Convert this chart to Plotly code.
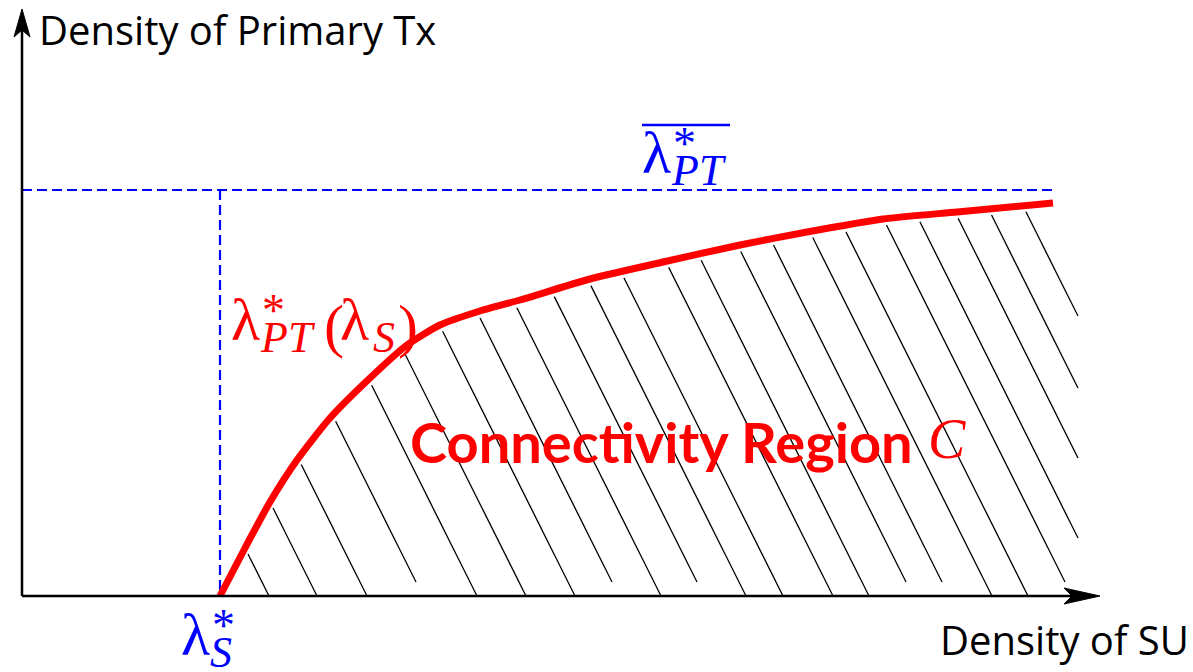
import numpy as np
import plotly.graph_objects as go

# ---- data (x: density of SU, y: density of primary Tx; arbitrary units) ----
curve_x = [198, 223, 248, 275, 308, 348, 385, 418, 458, 498, 568, 641, 718, 785, 861, 935, 1031]
curve_y = [0, 48, 94, 136, 178, 218, 251, 271, 285, 296, 317, 334, 351, 364, 377, 384, 393]

lambda_s_star = 198          # critical SU density
lambda_pt_bar = 406          # upper bound of primary density
bound_end_x = 1031           # extent of the upper bound line

# hatch lines of the connectivity region: x-intercept on the SU axis and the
# height above the axis at which each stroke stops
hatch_x0 = [247, 295, 345, 401, 455, 504, 553, 597, 639, 682, 724, 761, 811, 847,
            891, 927, 970, 1006, 1050, 1085, 1125, 1160, 1196]
hatch_stop = [0, 0, 0, 14, 0, 0, 0, 14, 0, 14, 0, 0, 0, 0,
              14, 14, 0, 0, 14, 0, 0, 0, 0]
hatch_right = 1056           # right edge of the hatched region
hatch_slope = 0.5            # dx per unit dy (strokes lean to the right going down)

X_RANGE = [-22, 1171]
Y_RANGE = [-76, 596]

fig = go.Figure()

# hatch strokes: from the red boundary down to the axis (clipped on the right)
cx = np.array(curve_x, float)
cy = np.array(curve_y, float)
for x0, stop in zip(hatch_x0, hatch_stop):
    # line: x = x0 - slope * y ; find where it meets the boundary curve
    diff = cx - (x0 - hatch_slope * cy)
    top = None
    for i in range(len(cx) - 1):
        if diff[i] == 0 or diff[i] * diff[i + 1] < 0:
            t = diff[i] / (diff[i] - diff[i + 1])
            top = cy[i] + t * (cy[i + 1] - cy[i])
            break
    if top is None:
        # beyond the last curve point: extend the last segment
        slope_end = (cy[-1] - cy[-2]) / (cx[-1] - cx[-2])
        top = (cy[-1] + slope_end * (x0 - cx[-1])) / (1 + slope_end * hatch_slope)
    y_top = top - 6
    x_top = x0 - hatch_slope * y_top
    y_bot = stop
    x_bot = x0 - hatch_slope * y_bot
    if x_bot > hatch_right:
        x_bot = hatch_right
        y_bot = (x0 - hatch_right) / hatch_slope
    if x_top >= hatch_right:
        continue
    fig.add_trace(go.Scatter(x=[x_top, x_bot], y=[y_top, y_bot], mode="lines",
                             line=dict(color="black", width=1.3),
                             hoverinfo="skip", showlegend=False))

# blue dashed bounds
dash_line = dict(color="#0000ff", width=2.2, dash="10px,5px")
fig.add_trace(go.Scatter(x=[0, bound_end_x], y=[lambda_pt_bar, lambda_pt_bar], mode="lines",
                         line=dash_line, hoverinfo="skip", showlegend=False))
fig.add_trace(go.Scatter(x=[lambda_s_star, lambda_s_star], y=[lambda_pt_bar, 0], mode="lines",
                         line=dash_line, hoverinfo="skip", showlegend=False))

# red boundary curve
fig.add_trace(go.Scatter(x=curve_x, y=curve_y, mode="lines",
                         line=dict(color="#ff0000", width=7, shape="spline", smoothing=0.6),
                         hoverinfo="skip", showlegend=False))

# axes with stealth arrow heads
ax_x_end, ax_y_end = 1078, 587
shapes = [
    dict(type="line", x0=0, y0=0, x1=ax_x_end - 20, y1=0, line=dict(color="black", width=2.5)),
    dict(type="line", x0=0, y0=0, x1=0, y1=ax_y_end - 15, line=dict(color="black", width=2.5)),
    dict(type="path",
         path=f"M {ax_x_end} 0 L {ax_x_end-36} 8 L {ax_x_end-28} 0 L {ax_x_end-36} -8 Z",
         fillcolor="black", line=dict(color="black", width=1)),
    dict(type="path",
         path=f"M 0 {ax_y_end} L 8 {ax_y_end-28} L 0 {ax_y_end-21} L -8 {ax_y_end-28} Z",
         fillcolor="black", line=dict(color="black", width=1)),
]

SANS = "'Open Sans', 'DejaVu Sans', sans-serif"
BOLD = "Lato, 'DejaVu Sans', sans-serif"
SERIF = "'Liberation Serif', 'DejaVu Serif', serif"
annotations = []


def text(x, y, s, size, color="black", family=SANS, xanchor="left", yanchor="middle"):
    annotations.append(dict(x=x, y=y, xref="x", yref="y", text=s, showarrow=False,
                            xanchor=xanchor, yanchor=yanchor,
                            font=dict(size=size, color=color, family=family)))


def math(x, y, sub, color, size=60):
    # λ with a stacked asterisk superscript and an italic subscript
    text(x, y, "λ", size, color, SERIF)
    text(x + 31, y + 10, "*", 46, color, SERIF)
    text(x + 29, y - 17, f"<i>{sub}</i>", 44, color, SERIF)


# axis titles
text(15, 567, "Density of Primary Tx", 40)
text(1169, -43, "Density of SU", 40, xanchor="right")

# region label
text(386, 155, "<b>Connectivity Region</b>", 56, "#ff0000", BOLD)
text(904, 157, "<i>C</i>", 56, "#ff0000", SERIF)

# upper bound label with overline
math(618, 443, "PT", "#0000ff")
shapes.append(dict(type="line", x0=620, x1=708, y0=471, y1=471,
                   line=dict(color="#0000ff", width=2.5)))

# boundary curve label
math(207, 276, "PT", "#ff0000")
text(300, 270, "(", 60, "#ff0000", SERIF)
text(316, 276, "λ", 60, "#ff0000", SERIF)
text(349, 259, "<i>S</i>", 44, "#ff0000", SERIF)
text(374, 270, ")", 60, "#ff0000", SERIF)

# critical SU density label
math(157, -39, "S", "#0000ff")

fig.update_layout(
    width=1193, height=672,
    margin=dict(l=0, r=0, t=0, b=0, pad=0),
    paper_bgcolor="white", plot_bgcolor="white",
    xaxis=dict(range=X_RANGE, visible=False, fixedrange=True),
    yaxis=dict(range=Y_RANGE, visible=False, fixedrange=True),
    shapes=shapes, annotations=annotations,
)

fig.write_html("out.html")
